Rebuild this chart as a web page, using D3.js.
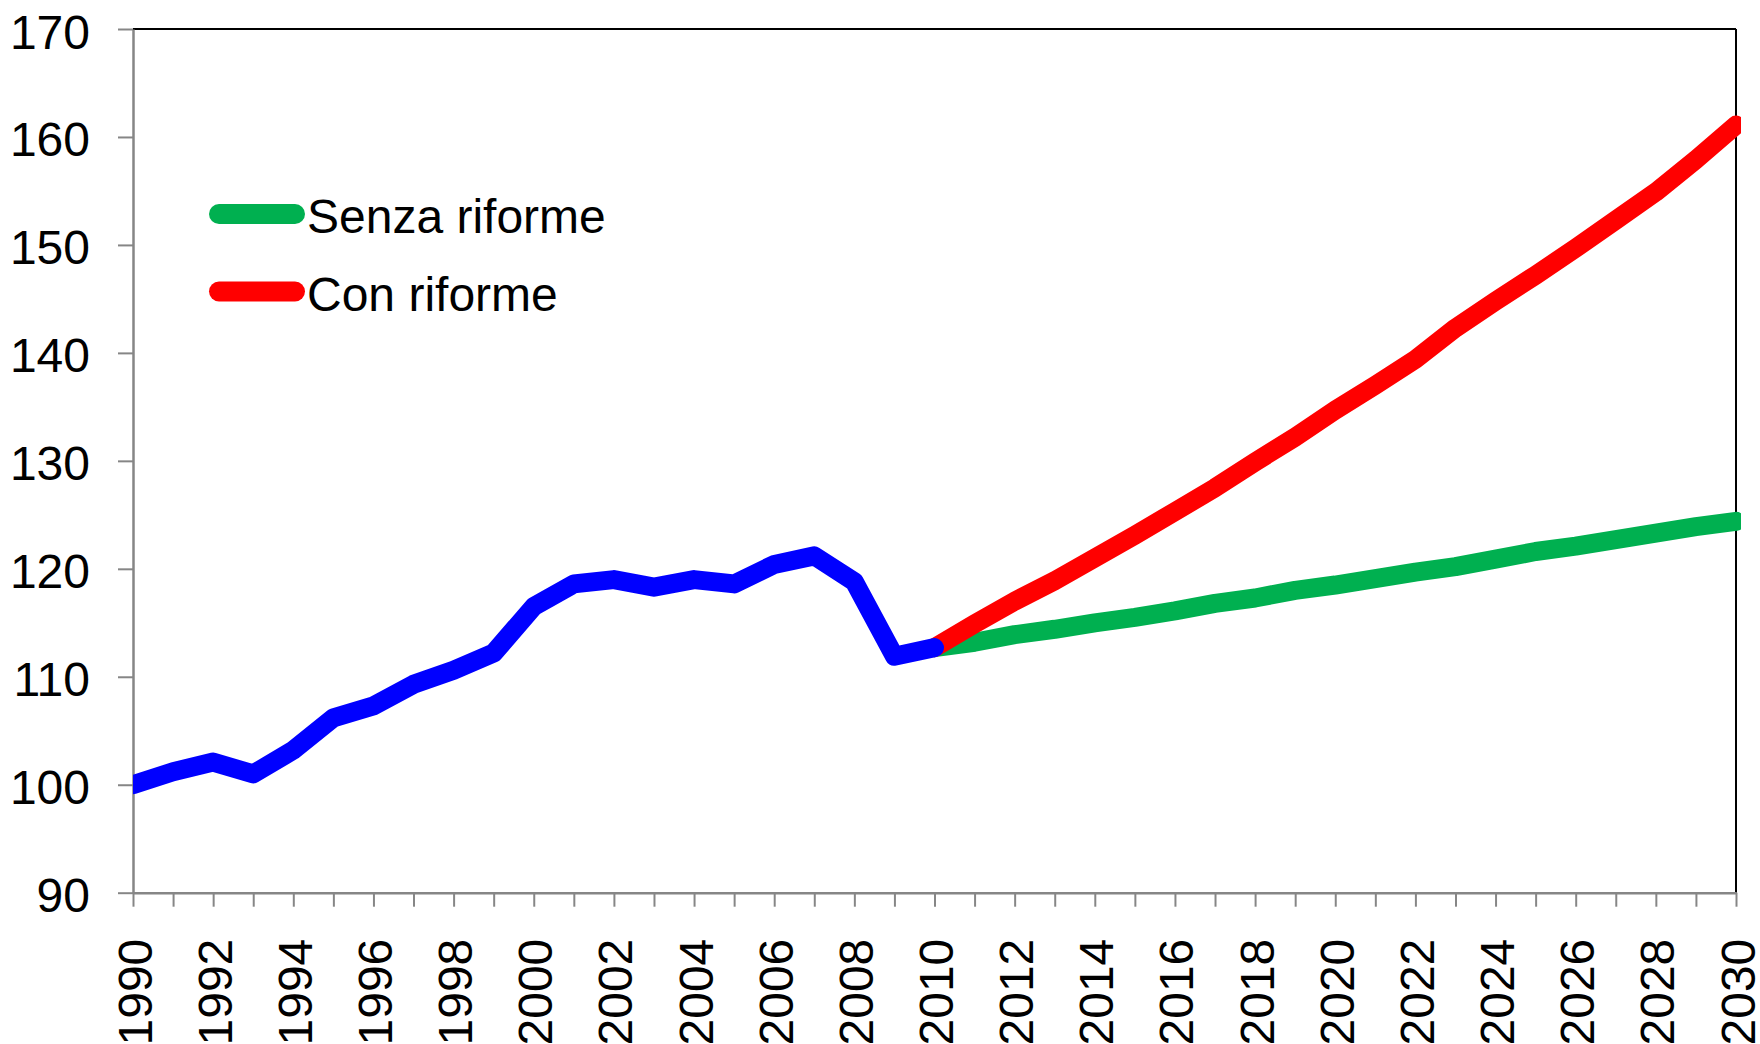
<!DOCTYPE html>
<html>
<head>
<meta charset="utf-8">
<script src="https://cdn.jsdelivr.net/npm/d3@7"></script>
<style>
  html, body { margin: 0; padding: 0; background: #fff; }
  svg { display: block; font-family: "Liberation Sans", Arial, sans-serif; }
</style>
</head>
<body>
<svg id="chart" width="1760" height="1044"></svg>
<script>
// ---- data ----
const histYears = [1990,1991,1992,1993,1994,1995,1996,1997,1998,1999,2000,2001,2002,2003,2004,2005,2006,2007,2008,2009,2010];
const histValues = [100.0,101.2,102.1,101.0,103.2,106.2,107.3,109.3,110.6,112.2,116.5,118.6,119.0,118.3,119.0,118.6,120.4,121.2,118.8,111.9,112.7];

const projYears = [2010,2011,2012,2013,2014,2015,2016,2017,2018,2019,2020,2021,2022,2023,2024,2025,2026,2027,2028,2029,2030];
const senzaValues = [112.7,113.2,113.9,114.4,115.0,115.5,116.1,116.8,117.3,118.0,118.5,119.1,119.7,120.2,120.9,121.6,122.1,122.7,123.3,123.9,124.4];
const conValues = [112.7,114.9,117.0,118.9,121.0,123.1,125.3,127.5,129.9,132.2,134.7,137.0,139.4,142.3,144.8,147.2,149.7,152.3,154.9,157.9,161.1];

const yTicks = [90,100,110,120,130,140,150,160,170];
const xTickYears = d3.range(1990, 2031, 1);
const xLabelYears = d3.range(1990, 2031, 2);

const legendLabels = ["Senza riforme", "Con riforme"];
const colors = { hist: "#0000FF", senza: "#00B050", con: "#FF0000" };

// ---- layout ----
const W = 1760, H = 1044;
const margin = { left: 133, top: 29, right: 24, bottom: 151.3 };
const svg = d3.select("#chart");

const x = d3.scaleLinear().domain([1990, 2030]).range([margin.left, W - margin.right]);
const y = d3.scaleLinear().domain([90, 170]).range([H - margin.bottom, margin.top]);

const axisColor = "#868686";

// clip
svg.append("defs").append("clipPath").attr("id", "plotclip")
  .append("rect")
  .attr("x", x(1990)).attr("y", 0)
  .attr("width", x(2030) - x(1990) + 5).attr("height", H);

// top and right border
svg.append("line")
  .attr("x1", x(1990)).attr("x2", x(2030))
  .attr("y1", y(170)).attr("y2", y(170))
  .attr("stroke", "#000").attr("stroke-width", 2);
svg.append("line")
  .attr("x1", x(2030)).attr("x2", x(2030))
  .attr("y1", y(170)).attr("y2", y(90))
  .attr("stroke", "#000").attr("stroke-width", 2);

// y axis
const yAxis = svg.append("g")
  .attr("transform", `translate(${x(1990)},0)`)
  .call(d3.axisLeft(y).tickValues(yTicks).tickSize(15).tickSizeOuter(0).tickPadding(28));
yAxis.select(".domain").attr("stroke", axisColor).attr("stroke-width", 2.5);
yAxis.selectAll(".tick line").attr("stroke", axisColor).attr("stroke-width", 2);
yAxis.selectAll(".tick text")
  .attr("font-size", 48).attr("fill", "#000")
  .attr("font-family", "'Liberation Sans', Arial, sans-serif")
  .attr("dy", 19);

// x axis
const xAxis = svg.append("g")
  .attr("transform", `translate(0,${y(90)})`)
  .call(d3.axisBottom(x).tickValues(xTickYears).tickSize(14).tickSizeOuter(0)
    .tickFormat(d => xLabelYears.includes(d) ? String(d) : ""));
xAxis.select(".domain").attr("stroke", axisColor).attr("stroke-width", 2.5);
xAxis.selectAll(".tick line").attr("stroke", axisColor).attr("stroke-width", 2);
xAxis.selectAll(".tick text")
  .attr("font-size", 48).attr("fill", "#000")
  .attr("font-family", "'Liberation Sans', Arial, sans-serif")
  .attr("x", 0).attr("y", 0).attr("dy", 0)
  .attr("text-anchor", "end")
  .attr("transform", "translate(18,46) rotate(-90)");

// lines
const line = d3.line().x(d => x(d[0])).y(d => y(d[1]));
const plot = svg.append("g").attr("clip-path", "url(#plotclip)");

function drawSeries(years, vals, color) {
  plot.append("path")
    .datum(years.map((yr, i) => [yr, vals[i]]))
    .attr("d", line)
    .attr("fill", "none")
    .attr("stroke", color)
    .attr("stroke-width", 19)
    .attr("stroke-linejoin", "round")
    .attr("stroke-linecap", "round");
}
drawSeries(projYears, senzaValues, colors.senza);
drawSeries(projYears, conValues, colors.con);
drawSeries(histYears, histValues, colors.hist);

// legend
const legend = svg.append("g");
const legendItems = [
  { label: legendLabels[0], color: colors.senza, cy: 214 },
  { label: legendLabels[1], color: colors.con, cy: 291.5 }
];
legendItems.forEach(it => {
  legend.append("line")
    .attr("x1", 219).attr("x2", 295)
    .attr("y1", it.cy).attr("y2", it.cy)
    .attr("stroke", it.color).attr("stroke-width", 20)
    .attr("stroke-linecap", "round");
  legend.append("text")
    .attr("x", 307).attr("y", it.cy + 19)
    .attr("font-size", 48).attr("fill", "#000")
    .text(it.label);
});
</script>
</body>
</html>
